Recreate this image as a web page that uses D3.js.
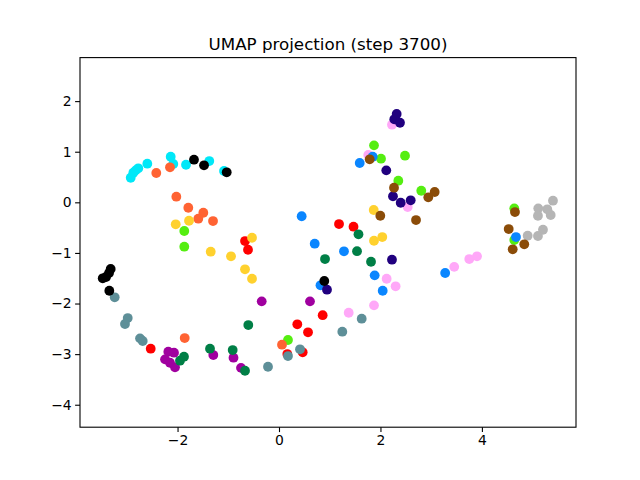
<!DOCTYPE html>
<html><head><meta charset="utf-8">
<script src="https://cdn.jsdelivr.net/npm/d3@7"></script>
<style>html,body{margin:0;padding:0;background:#fff;}svg{display:block;font-family:"DejaVu Sans",sans-serif;}</style>
</head><body><div id="chart"></div>
<script>
const title = "UMAP projection (step 3700)";
const xTicks = [-2, 0, 2, 4];
const yTicks = [2, 1, 0, -1, -2, -3, -4];
const seriesNames = ["cyan","pink","lime","red","slate","orange","purple","green","blue","gold","gray","indigo","brown","black"];
const seriesColors = ["#00e8f8","#ffa8f8","#55ee11","#ff0000","#5e8f98","#ff6333","#a0009f","#007f46","#0a86ff","#ffd12e","#b5b5b5","#21007f","#8b4c08","#000000"];
const cyanX = [-2.923,-2.872,-2.825,-2.774,-2.596,-2.135,-2.084,-1.833,-1.374,-1.084];
const cyanY = [0.486,0.585,0.632,0.672,0.763,0.901,0.757,0.743,0.816,0.619];
const pinkX = [2.227,1.760,2.537,2.122,2.299,3.454,3.751,3.903,1.873,1.374];
const pinkY = [1.534,0.935,-0.093,-1.510,-1.660,-1.275,-1.121,-1.067,-2.036,-2.182];
const limeX = [-1.867,-1.867,0.177,1.873,2.011,2.484,2.352,2.805,4.638,4.638];
const limeY = [-0.567,-0.877,-2.721,1.126,0.862,0.921,0.427,0.229,-0.119,-0.745];
const redX = [-0.670,-0.611,-2.529,1.183,1.469,0.861,0.361,0.572,0.164,0.467];
const redY = [-0.765,-0.937,-2.893,-0.429,-0.482,-2.231,-2.411,-2.569,-2.998,-2.964];
const slateX = [-3.239,-2.982,-3.036,-2.740,-2.687,-0.217,0.177,0.414,1.248,1.630];
const slateY = [-1.877,-2.287,-2.405,-2.688,-2.741,-3.249,-3.038,-2.905,-2.557,-2.300];
const orangeX = [-2.419,-2.149,-2.024,-1.788,-1.492,-1.591,-1.301,-1.859,0.059];
const orangeY = [0.579,0.692,0.111,-0.107,-0.206,-0.324,-0.370,-2.682,-2.814];
const purpleX = [-2.182,-2.070,-2.247,-2.149,-2.050,-1.295,-0.897,-0.749,-0.341,0.611];
const purpleY = [-2.953,-2.972,-3.103,-3.170,-3.261,-3.018,-3.071,-3.271,-1.957,-1.957];
const greenX = [-1.873,-1.952,-1.360,-0.913,-0.670,-0.605,1.567,1.538,0.907,1.814];
const greenY = [-3.051,-3.130,-2.893,-2.919,-3.328,-2.425,-0.632,-0.966,-1.121,-1.174];
const blueX = [0.447,0.704,1.281,0.818,1.886,2.044,3.276,1.591,1.847,4.672];
const blueY = [-0.275,-0.818,-0.968,-1.640,-1.443,-1.747,-1.397,0.777,0.901,-0.686];
const goldX = [-2.036,-1.774,-1.346,-0.946,-0.670,-0.532,-0.532,1.867,1.873,2.036];
const goldY = [-0.435,-0.364,-0.976,-1.067,-1.324,-1.510,-0.700,-0.152,-0.759,-0.686];
const grayX = [5.401,5.111,5.289,5.105,5.356,5.204,5.105,4.902];
const grayY = [0.032,-0.119,-0.138,-0.265,-0.251,-0.542,-0.666,-0.660];
const indigoX = [2.320,2.273,2.385,2.115,2.247,2.399,2.596,2.227,0.946];
const indigoY = [1.745,1.640,1.573,0.632,0.119,-0.008,0.040,-1.134,-1.727];
const brownX = [1.788,2.267,3.069,2.943,1.997,2.701,4.652,4.528,4.835,4.607];
const brownY = [0.850,0.289,0.204,0.099,-0.265,-0.350,-0.192,-0.528,-0.830,-0.929];
const blackX = [-1.676,-1.478,-1.031,-3.318,-3.351,-3.410,-3.475,-3.345,0.893];
const blackY = [0.842,0.731,0.593,-1.318,-1.397,-1.476,-1.502,-1.747,-1.555];

const seriesX = [cyanX,pinkX,limeX,redX,slateX,orangeX,purpleX,greenX,blueX,goldX,grayX,indigoX,brownX,blackX];
const seriesY = [cyanY,pinkY,limeY,redY,slateY,orangeY,purpleY,greenY,blueY,goldY,grayY,indigoY,brownY,blackY];

const W = 640, H = 480;
const L = 80, R = 576, T = 57.6, B = 427.2;
const x = d3.scaleLinear().domain([-3.923, 5.855]).range([L, R]);
const y = d3.scaleLinear().domain([-4.444, 2.86]).range([B, T]);

const svg = d3.select("#chart").append("svg").attr("width", W).attr("height", H);
svg.append("rect").attr("width", W).attr("height", H).attr("fill", "#fff");

const pts = [];
seriesNames.forEach((n, i) => {
  seriesX[i].forEach((v, j) => pts.push({x: v, y: seriesY[i][j], c: seriesColors[i]}));
});
svg.append("g").selectAll("circle").data(pts).join("circle")
  .attr("cx", d => x(d.x)).attr("cy", d => y(d.y)).attr("r", 4.9).attr("fill", d => d.c);

const fmt = v => (v < 0 ? "\u2212" + Math.abs(v) : String(v));
const gx = svg.append("g").attr("transform", `translate(0,${B})`)
  .call(d3.axisBottom(x).tickValues(xTicks).tickFormat(fmt).tickSize(4.9).tickPadding(3.5));
const gy = svg.append("g").attr("transform", `translate(${L},0)`)
  .call(d3.axisLeft(y).tickValues(yTicks).tickFormat(fmt).tickSize(4.9).tickPadding(3.5));
[gx, gy].forEach(g => {
  g.select(".domain").remove();
  g.selectAll(".tick line").attr("stroke", "#000").attr("stroke-width", 1.1);
  g.selectAll(".tick text").attr("fill", "#000").style("font-size", "13.9px").style("font-family", "DejaVu Sans");
});
svg.append("rect").attr("x", L).attr("y", T).attr("width", R - L).attr("height", B - T)
  .attr("fill", "none").attr("stroke", "#000").attr("stroke-width", 1.1);

svg.append("text").attr("x", (L + R) / 2).attr("y", 49.5).attr("text-anchor", "middle")
  .style("font-size", "16.7px").style("font-family", "DejaVu Sans").attr("fill", "#000").text(title);
</script></body></html>
